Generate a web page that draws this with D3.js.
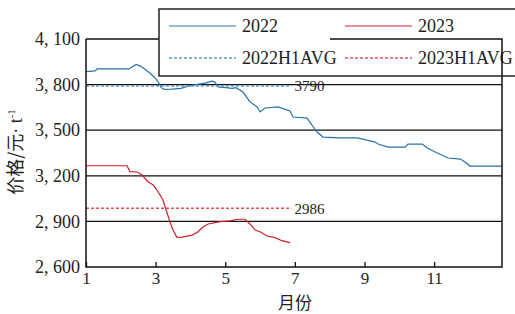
<!DOCTYPE html>
<html>
<head>
<meta charset="utf-8">
<script src="https://cdn.jsdelivr.net/npm/d3@7"></script>
<style>
  body { margin: 0; background: #fff; }
  svg { display: block; }
  text { font-family: "Liberation Serif", "Noto Sans CJK SC", serif; fill: #222; }
</style>
</head>
<body>
<div id="chart"></div>
<script>
// months (fractional) and prices
const months2022 = [1.00,1.26,1.32,2.24,2.32,2.44,2.58,2.72,2.84,2.95,3.07,3.16,3.24,3.47,3.73,3.93,4.16,4.42,4.62,4.71,4.79,5.02,5.20,5.31,5.51,5.71,5.91,6.00,6.14,6.52,6.86,6.95,7.35,7.49,7.64,7.81,8.30,8.79,9.07,9.30,9.39,9.68,10.17,10.25,10.66,10.80,11.09,11.40,11.75,11.89,12.03,12.93];
const prices2022 = [3885,3890,3903,3903,3915,3933,3920,3896,3875,3852,3820,3780,3768,3770,3775,3790,3800,3810,3823,3815,3785,3780,3775,3780,3751,3686,3655,3620,3646,3653,3626,3587,3580,3534,3488,3455,3449,3449,3435,3422,3409,3389,3389,3409,3409,3383,3350,3317,3310,3291,3264,3264];
const months2023 = [1.00,2.18,2.26,2.47,2.61,2.78,2.93,3.07,3.21,3.33,3.41,3.50,3.61,3.76,4.05,4.22,4.36,4.51,4.85,5.14,5.34,5.57,5.71,5.86,6.00,6.20,6.43,6.63,6.86];
const prices2023 = [3266,3266,3227,3225,3205,3161,3140,3095,3041,2955,2898,2843,2795,2797,2810,2832,2863,2883,2898,2903,2914,2914,2883,2843,2832,2804,2793,2773,2760];
const avgNames = ["2022H1AVG", "2023H1AVG"];
const avgValues = [3790, 2986];
const avgSpan = [1, 6.9];
const seriesNames = ["2022", "2023"];
const xTicks = [1, 3, 5, 7, 9, 11];
const yTicks = [2600, 2900, 3200, 3500, 3800, 4100];
const colors = ["#2a72a6", "#c9222c"];
const avgColors = ["#5d9ccb", "#e0525c"];

const W = 515, H = 314;
const mLeft = 86, mRight = 502, mTop = 39, mBottom = 267;

const svg = d3.select("#chart").append("svg")
    .attr("width", W)
    .attr("height", H);

const x = d3.scaleLinear().domain([1, 12.95]).range([mLeft, mRight]);
const y = d3.scaleLinear().domain([2600, 4100]).range([mBottom, mTop]);
const fmt = d => d3.format(",")(d).replace(",", ", ");

// gridlines
svg.append("g").selectAll("line")
    .data(yTicks.slice(1, -1))
    .join("line")
    .attr("x1", mLeft).attr("x2", mRight)
    .attr("y1", d => y(d)).attr("y2", d => y(d))
    .attr("stroke", "#111")
    .attr("stroke-width", 1.2);

// y axis labels
const yAxis = svg.append("g")
    .attr("transform", `translate(${mLeft},0)`)
    .call(d3.axisLeft(y).tickValues(yTicks).tickFormat(fmt).tickSize(0).tickPadding(6));
yAxis.select(".domain").remove();
yAxis.selectAll("text").style("font-size", "18px").attr("fill", "#222")
    .attr("font-family", null);

// x axis
const xAxis = svg.append("g")
    .attr("transform", `translate(0,${mBottom})`)
    .call(d3.axisBottom(x).tickValues(xTicks).tickFormat(d3.format("d")).tickSize(-5).tickPadding(5));
xAxis.select(".domain").remove();
xAxis.selectAll("line").attr("stroke", "#111").attr("stroke-width", 1.3);
xAxis.selectAll("text").style("font-size", "17px").attr("fill", "#222")
    .attr("font-family", null);

// lines
const line = d3.line().x(d => x(d[0])).y(d => y(d[1]));
const data2022 = months2022.map((m, i) => [m, prices2022[i]]);
const data2023 = months2023.map((m, i) => [m, prices2023[i]]);
[data2022, data2023].forEach((d, i) => {
    svg.append("path")
        .datum(d)
        .attr("d", line)
        .attr("fill", "none")
        .attr("stroke", colors[i])
        .attr("stroke-width", 1.2);
});

// averages
avgValues.forEach((v, i) => {
    svg.append("line")
        .attr("x1", x(avgSpan[0])).attr("x2", x(avgSpan[1]))
        .attr("y1", y(v)).attr("y2", y(v))
        .attr("stroke", avgColors[i])
        .attr("stroke-width", 1.5)
        .attr("stroke-dasharray", "3,2");
    svg.append("text")
        .attr("x", x(avgSpan[1]) + 3)
        .attr("y", y(v))
        .attr("dy", "0.35em")
        .style("font-size", "15px")
        .text(v);
});

// frame
svg.append("path")
    .attr("d", `M${mLeft},${mTop}V${mBottom}H${mRight}V${mTop}H${mLeft}`)
    .attr("fill", "none")
    .attr("stroke", "#111")
    .attr("stroke-width", 1.5);

// legend
const lg = svg.append("g");
lg.append("rect")
    .attr("x", 159).attr("y", 9)
    .attr("width", 380).attr("height", 67)
    .attr("fill", "#fff")
    .attr("stroke", "#222")
    .attr("stroke-width", 1.5);
const items = [
    {name: seriesNames[0], color: colors[0], dash: null, cx: 169, cy: 26},
    {name: seriesNames[1], color: colors[1], dash: null, cx: 345, cy: 26},
    {name: avgNames[0], color: avgColors[0], dash: "3,2", cx: 169, cy: 58},
    {name: avgNames[1], color: avgColors[1], dash: "3,2", cx: 345, cy: 58}
];
items.forEach(it => {
    lg.append("line")
        .attr("x1", it.cx).attr("x2", it.cx + 67)
        .attr("y1", it.cy).attr("y2", it.cy)
        .attr("stroke", it.color)
        .attr("stroke-opacity", it.dash ? 1 : 0.65)
        .attr("stroke-width", 1.5)
        .attr("stroke-dasharray", it.dash);
    lg.append("text")
        .attr("x", it.cx + 73).attr("y", it.cy)
        .attr("dy", "0.35em")
        .style("font-size", "18px")
        .text(it.name);
});
// plot border showing through the right part of the legend
svg.append("path")
    .attr("d", `M330,${mTop}H${mRight}V76`)
    .attr("fill", "none")
    .attr("stroke", "#111")
    .attr("stroke-width", 1.5);

// axis titles
svg.append("text")
    .attr("transform", "translate(22,152) rotate(-90)")
    .attr("text-anchor", "middle")
    .style("font-size", "18px")
    .html('<tspan style="font-family:\'Noto Sans CJK SC\'">价格/元</tspan>· t<tspan dy="-7" style="font-size:11px">-1</tspan>');
svg.append("text")
    .attr("x", 295).attr("y", 309)
    .attr("text-anchor", "middle")
    .style("font-size", "17px")
    .style("font-family", "'Noto Sans CJK SC', sans-serif")
    .text("月份");
</script>
</body>
</html>
